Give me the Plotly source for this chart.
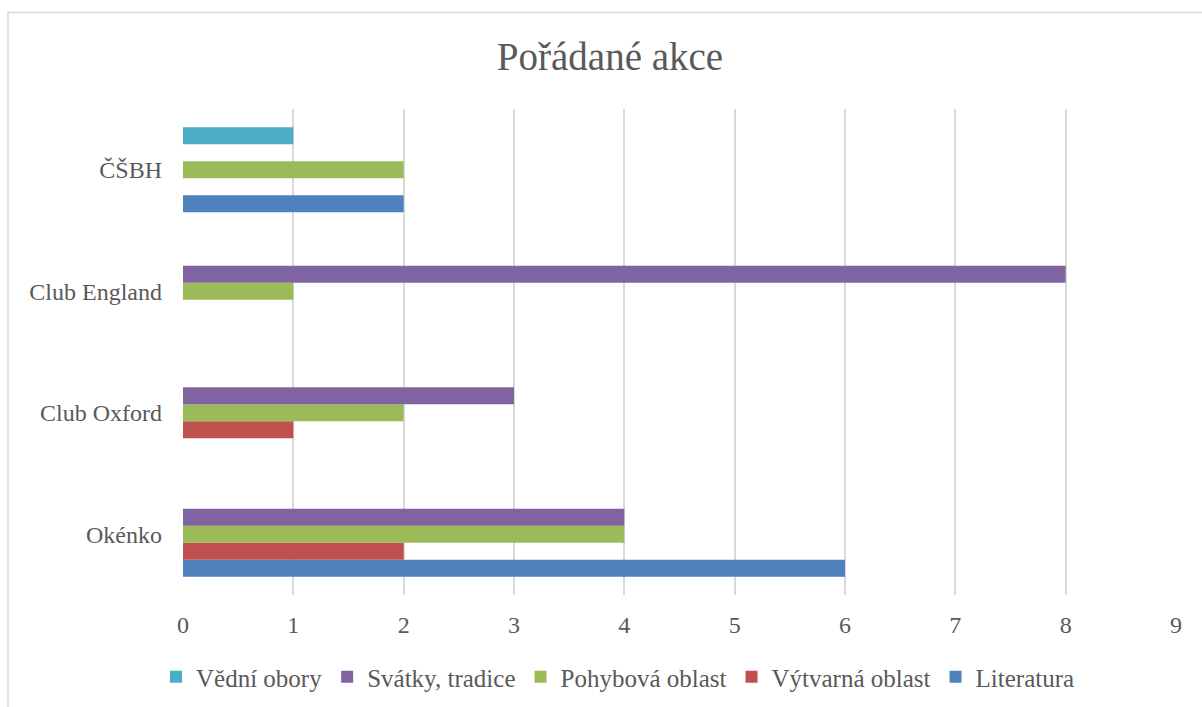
import plotly.graph_objects as go

categories = ["Okénko", "Club Oxford", "Club England", "ČŠBH"]
series_names = ["Literatura", "Výtvarná oblast", "Pohybová oblast", "Svátky, tradice", "Vědní obory"]
literatura = [6, 0, 0, 2]
vytvarna = [2, 1, 0, 0]
pohybova = [4, 2, 1, 2]
svatky = [4, 3, 8, 0]
vedni = [0, 0, 0, 1]
x_ticks = [0, 1, 2, 3, 4, 5, 6, 7, 8, 9]

values = [literatura, vytvarna, pohybova, svatky, vedni]
colors = ["#4F81BD", "#C0504D", "#9BBB59", "#8064A2", "#4BACC6"]

FONT = "Liberation Serif"
GRAY = "#595959"

fig = go.Figure()
for name, vals, col in zip(series_names, values, colors):
    fig.add_trace(go.Bar(
        y=categories, x=vals, name=name, orientation="h",
        marker=dict(color=col, line=dict(width=0)),
    ))

fig.update_layout(
    width=1202, height=707,
    barmode="group", bargap=0.30, bargroupgap=0,
    paper_bgcolor="white", plot_bgcolor="white",
    margin=dict(l=183, r=26, t=109, b=112, autoexpand=False),
    font=dict(family=FONT, color=GRAY, size=24),
    title=dict(text="Pořádané akce", x=610/1202, xref="container", xanchor="center",
               y=1-56/707, yref="container", yanchor="middle",
               font=dict(family=FONT, size=39, color=GRAY)),
    xaxis=dict(range=[0, 9], tickvals=x_ticks, showgrid=True, gridcolor="#D9D9D9",
               gridwidth=1.5, zeroline=False, showline=False, ticks="",
               ticklabelstandoff=13, tickfont=dict(size=24, color=GRAY, family=FONT)),
    yaxis=dict(showgrid=False, zeroline=False, showline=False, ticks="",
               ticklabelstandoff=20, tickfont=dict(size=24, color=GRAY, family=FONT)),
    legend=dict(orientation="h", traceorder="reversed", xref="container", yref="container",
                x=618/1202, xanchor="center", y=1-677/707, yanchor="middle",
                font=dict(size=25, color=GRAY, family=FONT), itemwidth=30,
                bgcolor="rgba(0,0,0,0)"),
    shapes=[dict(type="rect", xref="paper", yref="paper",
                 x0=(8-183)/993, x1=(1210-183)/993,
                 y0=(595-715)/486, y1=1+(109-12.5)/486,
                 line=dict(color="#D9D9D9", width=1.5), fillcolor="rgba(0,0,0,0)", layer="below")],
)

fig.write_html("out.html", config={"displayModeBar": False},
               post_script="document.body.style.margin='0';document.body.style.overflow='hidden';")
